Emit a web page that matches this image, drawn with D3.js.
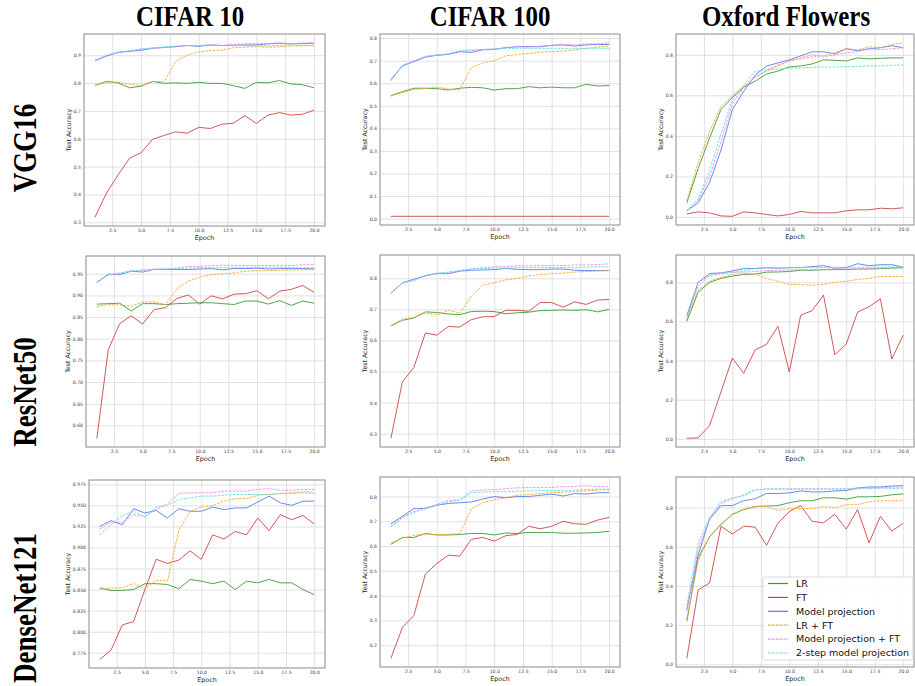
<!DOCTYPE html>
<html>
<head>
<meta charset="utf-8">
<script src="https://cdn.jsdelivr.net/npm/d3@7"></script>
<style>
  body { margin: 0; background: #fff; }
  svg { display: block; }
</style>
</head>
<body>
<div id="chart"></div>
<script>
// epochs on the x axis
var epochs = d3.range(1, 21);
var methods = ["LR", "FT", "Model projection", "LR + FT", "Model projection + FT", "2-step model projection"];
var datasets = ["CIFAR 10", "CIFAR 100", "Oxford Flowers"];
var models = ["VGG16", "ResNet50", "DenseNet121"];

// each block: LR, FT, Model projection, LR + FT, Model projection + FT, 2-step
var vggCifar10 = [
  [0.792,0.806,0.801,0.783,0.789,0.806,0.799,0.801,0.799,0.803,0.799,0.799,0.791,0.781,0.803,0.801,0.809,0.797,0.794,0.783],
  [0.318,0.405,0.47,0.53,0.55,0.598,0.612,0.625,0.62,0.641,0.637,0.652,0.656,0.683,0.655,0.685,0.694,0.685,0.688,0.703],
  [0.88,0.897,0.91,0.914,0.918,0.925,0.928,0.931,0.935,0.932,0.937,0.935,0.936,0.937,0.937,0.941,0.943,0.941,0.942,0.943],
  [0.792,0.803,0.803,0.796,0.791,0.806,0.805,0.878,0.9,0.912,0.917,0.918,0.927,0.929,0.931,0.929,0.93,0.933,0.934,0.935],
  [0.882,0.9,0.912,0.915,0.922,0.926,0.928,0.93,0.935,0.935,0.938,0.935,0.939,0.941,0.943,0.942,0.944,0.941,0.944,0.945],
  [0.88,0.898,0.91,0.917,0.923,0.926,0.93,0.933,0.935,0.935,0.936,0.935,0.935,0.934,0.935,0.934,0.935,0.937,0.935,0.935]
];
var vggCifar100 = [
  [0.545,0.563,0.578,0.578,0.576,0.57,0.578,0.582,0.58,0.57,0.576,0.576,0.585,0.58,0.583,0.58,0.58,0.595,0.588,0.59],
  [0.01,0.01,0.01,0.01,0.01,0.01,0.01,0.01,0.01,0.01,0.01,0.01,0.01,0.01,0.01,0.01,0.01,0.01,0.01,0.01],
  [0.615,0.677,0.696,0.716,0.724,0.728,0.74,0.737,0.748,0.75,0.758,0.762,0.763,0.762,0.768,0.77,0.765,0.77,0.772,0.772],
  [0.543,0.558,0.572,0.577,0.583,0.575,0.572,0.67,0.69,0.7,0.722,0.727,0.732,0.738,0.741,0.742,0.748,0.755,0.76,0.765],
  [0.61,0.68,0.7,0.718,0.726,0.73,0.74,0.745,0.75,0.752,0.758,0.762,0.76,0.765,0.768,0.772,0.77,0.775,0.775,0.78],
  [0.62,0.675,0.697,0.72,0.725,0.73,0.745,0.748,0.75,0.752,0.755,0.755,0.755,0.755,0.755,0.755,0.755,0.755,0.755,0.755]
];
var vggFlowers = [
  [0.07,0.24,0.39,0.53,0.59,0.64,0.67,0.705,0.72,0.74,0.745,0.755,0.775,0.773,0.77,0.785,0.78,0.783,0.785,0.785],
  [0.015,0.025,0.02,0.005,0.003,0.025,0.02,0.012,0.005,0.012,0.027,0.02,0.02,0.02,0.03,0.035,0.035,0.043,0.04,0.045],
  [0.03,0.07,0.17,0.33,0.53,0.62,0.7,0.745,0.76,0.775,0.795,0.815,0.815,0.805,0.83,0.82,0.83,0.835,0.845,0.835],
  [0.08,0.27,0.42,0.545,0.6,0.645,0.69,0.72,0.745,0.77,0.785,0.8,0.795,0.81,0.83,0.825,0.84,0.835,0.85,0.86],
  [0.03,0.08,0.2,0.37,0.56,0.64,0.69,0.725,0.75,0.77,0.78,0.79,0.79,0.8,0.81,0.815,0.83,0.825,0.83,0.835],
  [0.03,0.09,0.23,0.41,0.58,0.65,0.72,0.725,0.73,0.735,0.735,0.738,0.74,0.74,0.742,0.742,0.745,0.745,0.748,0.75]
];
var resCifar10 = [
  [0.88,0.881,0.882,0.864,0.881,0.881,0.879,0.881,0.882,0.883,0.883,0.881,0.879,0.887,0.887,0.88,0.888,0.877,0.887,0.882],
  [0.57,0.775,0.835,0.853,0.834,0.867,0.872,0.893,0.901,0.88,0.899,0.892,0.903,0.904,0.911,0.892,0.91,0.914,0.923,0.907],
  [0.93,0.949,0.948,0.956,0.954,0.96,0.96,0.96,0.96,0.961,0.962,0.959,0.962,0.962,0.963,0.961,0.962,0.962,0.962,0.961],
  [0.874,0.879,0.878,0.875,0.885,0.885,0.879,0.915,0.933,0.942,0.948,0.95,0.952,0.956,0.957,0.957,0.958,0.959,0.959,0.961],
  [0.931,0.947,0.95,0.957,0.958,0.961,0.961,0.963,0.967,0.967,0.969,0.97,0.969,0.969,0.969,0.969,0.969,0.969,0.971,0.971],
  [0.93,0.948,0.952,0.956,0.959,0.96,0.961,0.962,0.963,0.964,0.964,0.964,0.964,0.964,0.965,0.965,0.965,0.964,0.964,0.964]
];
var resCifar100 = [
  [0.647,0.665,0.672,0.692,0.69,0.685,0.683,0.693,0.694,0.693,0.686,0.689,0.691,0.696,0.697,0.698,0.697,0.699,0.692,0.7],
  [0.285,0.467,0.513,0.624,0.617,0.645,0.643,0.667,0.676,0.677,0.697,0.697,0.694,0.722,0.722,0.707,0.724,0.716,0.73,0.732],
  [0.753,0.785,0.797,0.808,0.815,0.815,0.823,0.826,0.827,0.828,0.832,0.829,0.828,0.828,0.83,0.83,0.826,0.825,0.825,0.825],
  [0.648,0.668,0.675,0.688,0.682,0.697,0.688,0.742,0.778,0.786,0.795,0.8,0.808,0.812,0.815,0.817,0.82,0.822,0.823,0.825],
  [0.753,0.785,0.793,0.809,0.815,0.818,0.825,0.83,0.834,0.837,0.838,0.84,0.84,0.841,0.841,0.841,0.843,0.843,0.844,0.847],
  [0.752,0.785,0.794,0.81,0.817,0.82,0.825,0.83,0.832,0.833,0.833,0.834,0.834,0.835,0.835,0.835,0.835,0.836,0.837,0.837]
];
var resFlowers = [
  [0.6,0.75,0.8,0.82,0.832,0.84,0.842,0.852,0.853,0.855,0.862,0.862,0.864,0.865,0.865,0.868,0.868,0.87,0.872,0.875],
  [0.003,0.005,0.068,0.24,0.413,0.335,0.455,0.483,0.575,0.342,0.632,0.655,0.735,0.43,0.485,0.648,0.675,0.715,0.408,0.53],
  [0.63,0.8,0.845,0.848,0.858,0.87,0.87,0.875,0.872,0.875,0.875,0.88,0.885,0.872,0.875,0.895,0.885,0.89,0.89,0.878],
  [0.61,0.76,0.805,0.825,0.84,0.845,0.842,0.82,0.805,0.79,0.788,0.785,0.79,0.8,0.805,0.815,0.82,0.83,0.83,0.83],
  [0.61,0.8,0.835,0.842,0.85,0.852,0.855,0.86,0.862,0.864,0.864,0.866,0.866,0.868,0.868,0.87,0.872,0.873,0.874,0.875],
  [0.62,0.78,0.835,0.848,0.852,0.858,0.872,0.873,0.874,0.875,0.876,0.876,0.876,0.877,0.877,0.877,0.877,0.878,0.879,0.88]
];
var denseCifar10 = [
  [0.852,0.849,0.849,0.85,0.857,0.857,0.856,0.851,0.862,0.86,0.857,0.86,0.85,0.86,0.858,0.862,0.858,0.858,0.85,0.844],
  [0.767,0.778,0.808,0.812,0.85,0.886,0.881,0.885,0.896,0.886,0.915,0.91,0.919,0.915,0.935,0.92,0.939,0.933,0.938,0.928],
  [0.925,0.932,0.927,0.946,0.941,0.944,0.935,0.946,0.943,0.943,0.948,0.945,0.947,0.947,0.954,0.961,0.953,0.95,0.955,0.955],
  [0.85,0.852,0.852,0.857,0.851,0.861,0.86,0.92,0.943,0.948,0.95,0.955,0.958,0.958,0.962,0.963,0.964,0.965,0.966,0.966],
  [0.922,0.93,0.93,0.939,0.937,0.945,0.952,0.964,0.965,0.965,0.965,0.967,0.967,0.967,0.969,0.97,0.968,0.968,0.969,0.969],
  [0.915,0.927,0.938,0.943,0.936,0.948,0.95,0.957,0.959,0.961,0.961,0.962,0.963,0.963,0.963,0.963,0.964,0.964,0.965,0.964]
];
var denseCifar100 = [
  [0.607,0.635,0.635,0.651,0.645,0.645,0.647,0.651,0.651,0.645,0.653,0.651,0.655,0.655,0.655,0.652,0.652,0.653,0.655,0.66],
  [0.147,0.272,0.32,0.487,0.53,0.563,0.56,0.627,0.635,0.62,0.642,0.647,0.68,0.67,0.68,0.7,0.69,0.688,0.705,0.716],
  [0.69,0.72,0.752,0.752,0.765,0.772,0.775,0.778,0.79,0.8,0.795,0.8,0.8,0.805,0.81,0.802,0.812,0.81,0.815,0.816],
  [0.612,0.632,0.643,0.648,0.645,0.648,0.65,0.75,0.775,0.787,0.795,0.805,0.808,0.812,0.815,0.818,0.82,0.823,0.826,0.828],
  [0.68,0.716,0.74,0.75,0.768,0.785,0.785,0.823,0.826,0.828,0.832,0.835,0.836,0.836,0.837,0.84,0.84,0.844,0.84,0.84],
  [0.677,0.714,0.735,0.755,0.765,0.778,0.786,0.815,0.818,0.82,0.82,0.822,0.823,0.824,0.824,0.825,0.826,0.828,0.83,0.83]
];
var denseFlowers = [
  [0.22,0.545,0.65,0.715,0.765,0.79,0.805,0.808,0.81,0.825,0.835,0.835,0.85,0.85,0.843,0.855,0.855,0.857,0.865,0.87],
  [0.03,0.38,0.415,0.705,0.665,0.705,0.7,0.607,0.72,0.78,0.81,0.73,0.722,0.765,0.69,0.79,0.62,0.755,0.68,0.72],
  [0.28,0.56,0.74,0.81,0.81,0.835,0.845,0.872,0.872,0.875,0.885,0.88,0.88,0.885,0.887,0.9,0.905,0.905,0.91,0.912],
  [0.23,0.53,0.655,0.712,0.765,0.792,0.805,0.805,0.785,0.795,0.795,0.795,0.805,0.8,0.815,0.815,0.83,0.835,0.835,0.835],
  [0.27,0.59,0.745,0.82,0.845,0.865,0.89,0.895,0.895,0.895,0.895,0.895,0.895,0.895,0.895,0.9,0.9,0.9,0.905,0.905],
  [0.3,0.62,0.75,0.83,0.85,0.86,0.89,0.895,0.895,0.895,0.895,0.895,0.895,0.895,0.895,0.895,0.897,0.9,0.898,0.898]
];

// tick labels
var xTicks = [2.5, 5, 7.5, 10, 12.5, 15, 17.5, 20];
var yTicksVggC10 = [0.3, 0.4, 0.5, 0.6, 0.7, 0.8, 0.9];
var yTicksVggC100 = [0.0, 0.1, 0.2, 0.3, 0.4, 0.5, 0.6, 0.7, 0.8];
var yTicksFlowers = [0.0, 0.2, 0.4, 0.6, 0.8];
var yTicksResC10 = [0.60, 0.65, 0.70, 0.75, 0.80, 0.85, 0.90, 0.95];
var yTicksResC100 = [0.3, 0.4, 0.5, 0.6, 0.7, 0.8];
var yTicksDenseC10 = [0.775, 0.800, 0.825, 0.850, 0.875, 0.900, 0.925, 0.950, 0.975];
var yTicksDenseC100 = [0.2, 0.3, 0.4, 0.5, 0.6, 0.7, 0.8];

var colors = ["#3c9c3c", "#cc4646", "#5a7cec", "#ffa62b", "#ec8cec", "#5fe0dc"];
var dashed = [false, false, false, true, true, true];

var panels = [
  { data: vggCifar10,    ticks: yTicksVggC10,    fmt: ".1f", box: [84, 34, 325, 226] },
  { data: vggCifar100,   ticks: yTicksVggC100,   fmt: ".1f", box: [380, 34, 620, 225] },
  { data: vggFlowers,    ticks: yTicksFlowers,   fmt: ".1f", box: [676, 34, 914, 225] },
  { data: resCifar10,    ticks: yTicksResC10,    fmt: ".2f", box: [86, 256, 325, 447] },
  { data: resCifar100,   ticks: yTicksResC100,   fmt: ".1f", box: [380, 255, 620, 447] },
  { data: resFlowers,    ticks: yTicksFlowers,   fmt: ".1f", box: [676, 255, 914, 447] },
  { data: denseCifar10,  ticks: yTicksDenseC10,  fmt: ".3f", box: [89, 480, 325, 668] },
  { data: denseCifar100, ticks: yTicksDenseC100, fmt: ".1f", box: [380, 477, 620, 667] },
  { data: denseFlowers,  ticks: yTicksFlowers,   fmt: ".1f", box: [676, 477, 914, 667] }
];

var svg = d3.select("#chart").append("svg")
    .attr("width", 915)
    .attr("height", 686);

// column titles and row titles (tall, narrow bold serif)
var colCenters = [190, 490, 786];
svg.append("g").selectAll("text")
    .data(datasets)
    .enter()
    .append("text")
    .attr("transform", (d, i) => `translate(${colCenters[i]},26) scale(0.86,1)`)
    .attr("text-anchor", "middle")
    .attr("font-family", "'Liberation Serif', 'Times New Roman', serif")
    .attr("font-weight", "bold")
    .attr("font-size", 29)
    .text(d => d);

var rowCenters = [148, 392, 608];
svg.append("g").selectAll("text")
    .data(models)
    .enter()
    .append("text")
    .attr("transform", (d, i) => `translate(36,${rowCenters[i]}) rotate(-90) scale(0.82,1)`)
    .attr("text-anchor", "middle")
    .attr("font-family", "'Liberation Serif', 'Times New Roman', serif")
    .attr("font-weight", "bold")
    .attr("font-size", 33)
    .text(d => d);

panels.forEach(function (p) {
    var x0 = p.box[0], y0 = p.box[1], x1 = p.box[2], y1 = p.box[3];
    var all = d3.merge(p.data);
    var lo = d3.min(all), hi = d3.max(all);
    var pad = (hi - lo) * 0.05;

    var xScale = d3.scaleLinear().domain([1 - 0.95, 20 + 0.95]).range([x0, x1]);
    var yScale = d3.scaleLinear().domain([lo - pad, hi + pad]).range([y1, y0]);

    var g = svg.append("g");

    // grid
    g.append("g")
        .attr("transform", `translate(0,${y1})`)
        .call(d3.axisBottom(xScale).tickValues(xTicks).tickSize(-(y1 - y0)).tickFormat(d3.format(".1f")))
        .call(a => a.select(".domain").remove())
        .call(a => a.selectAll("line").attr("stroke", "#d9d9d9").attr("stroke-width", 0.8))
        .call(a => a.selectAll("text")
            .attr("font-family", "'DejaVu Sans', sans-serif")
            .attr("font-size", 4.6)
            .attr("fill", "#444")
            .attr("dy", "0.71em")
            .attr("y", 3));

    var yAxis = g.append("g")
        .attr("transform", `translate(${x0},0)`)
        .call(d3.axisLeft(yScale).tickValues(p.ticks).tickSize(-(x1 - x0)).tickFormat(d3.format(p.fmt)))
        .call(a => a.select(".domain").remove())
        .call(a => a.selectAll("line").attr("stroke", "#d9d9d9").attr("stroke-width", 0.8))
        .call(a => a.selectAll("text")
            .attr("font-family", "'DejaVu Sans', sans-serif")
            .attr("font-size", 4.6)
            .attr("fill", "#444")
            .attr("x", -3));

    var tickW = d3.max(yAxis.selectAll("text").nodes(), n => n.getComputedTextLength());

    var line = d3.line()
        .x((d, i) => xScale(epochs[i]))
        .y(d => yScale(d));

    g.append("g").selectAll("path")
        .data(p.data)
        .enter()
        .append("path")
        .attr("d", d => line(d))
        .attr("fill", "none")
        .attr("stroke", (d, i) => colors[i])
        .attr("stroke-width", 1)
        .attr("stroke-opacity", 0.9)
        .style("stroke-dasharray", (d, i) => dashed[i] ? "2.6, 1.2" : null);

    // frame
    g.append("rect")
        .attr("x", x0).attr("y", y0)
        .attr("width", x1 - x0).attr("height", y1 - y0)
        .attr("fill", "none")
        .attr("stroke", "#8a8a8a")
        .attr("stroke-width", 1);

    g.append("text")
        .attr("x", (x0 + x1) / 2)
        .attr("y", y1 + 14)
        .attr("text-anchor", "middle")
        .attr("font-family", "'DejaVu Sans', sans-serif")
        .attr("font-size", 6.4)
        .attr("fill", "#222")
        .text("Epoch");

    g.append("text")
        .attr("transform", `translate(${x0 - 3 - tickW - 3},${(y0 + y1) / 2}) rotate(-90)`)
        .attr("text-anchor", "middle")
        .attr("font-family", "'DejaVu Sans', sans-serif")
        .attr("font-size", 6.2)
        .attr("fill", "#222")
        .text("Test Accuracy");
});

// legend in the last panel
var leg = svg.append("g").attr("transform", "translate(763,577)");
leg.append("rect")
    .attr("width", 150).attr("height", 83)
    .attr("rx", 2)
    .attr("fill", "#fff").attr("fill-opacity", 0.85)
    .attr("stroke", "#d0d0d0").attr("stroke-width", 0.8);
leg.selectAll("line")
    .data(methods)
    .enter()
    .append("line")
    .attr("x1", 5).attr("x2", 25)
    .attr("y1", (d, i) => 6.5 + 13.9 * i)
    .attr("y2", (d, i) => 6.5 + 13.9 * i)
    .attr("stroke", (d, i) => colors[i])
    .attr("stroke-width", 1.2)
    .style("stroke-dasharray", (d, i) => dashed[i] ? "2.6, 1.2" : null);
leg.selectAll("text")
    .data(methods)
    .enter()
    .append("text")
    .attr("x", 33)
    .attr("y", (d, i) => 6.5 + 13.9 * i)
    .attr("dy", "0.35em")
    .attr("font-family", "'DejaVu Sans', sans-serif")
    .attr("font-size", 9.5)
    .attr("fill", "#111")
    .text(d => d);
</script>
</body>
</html>
